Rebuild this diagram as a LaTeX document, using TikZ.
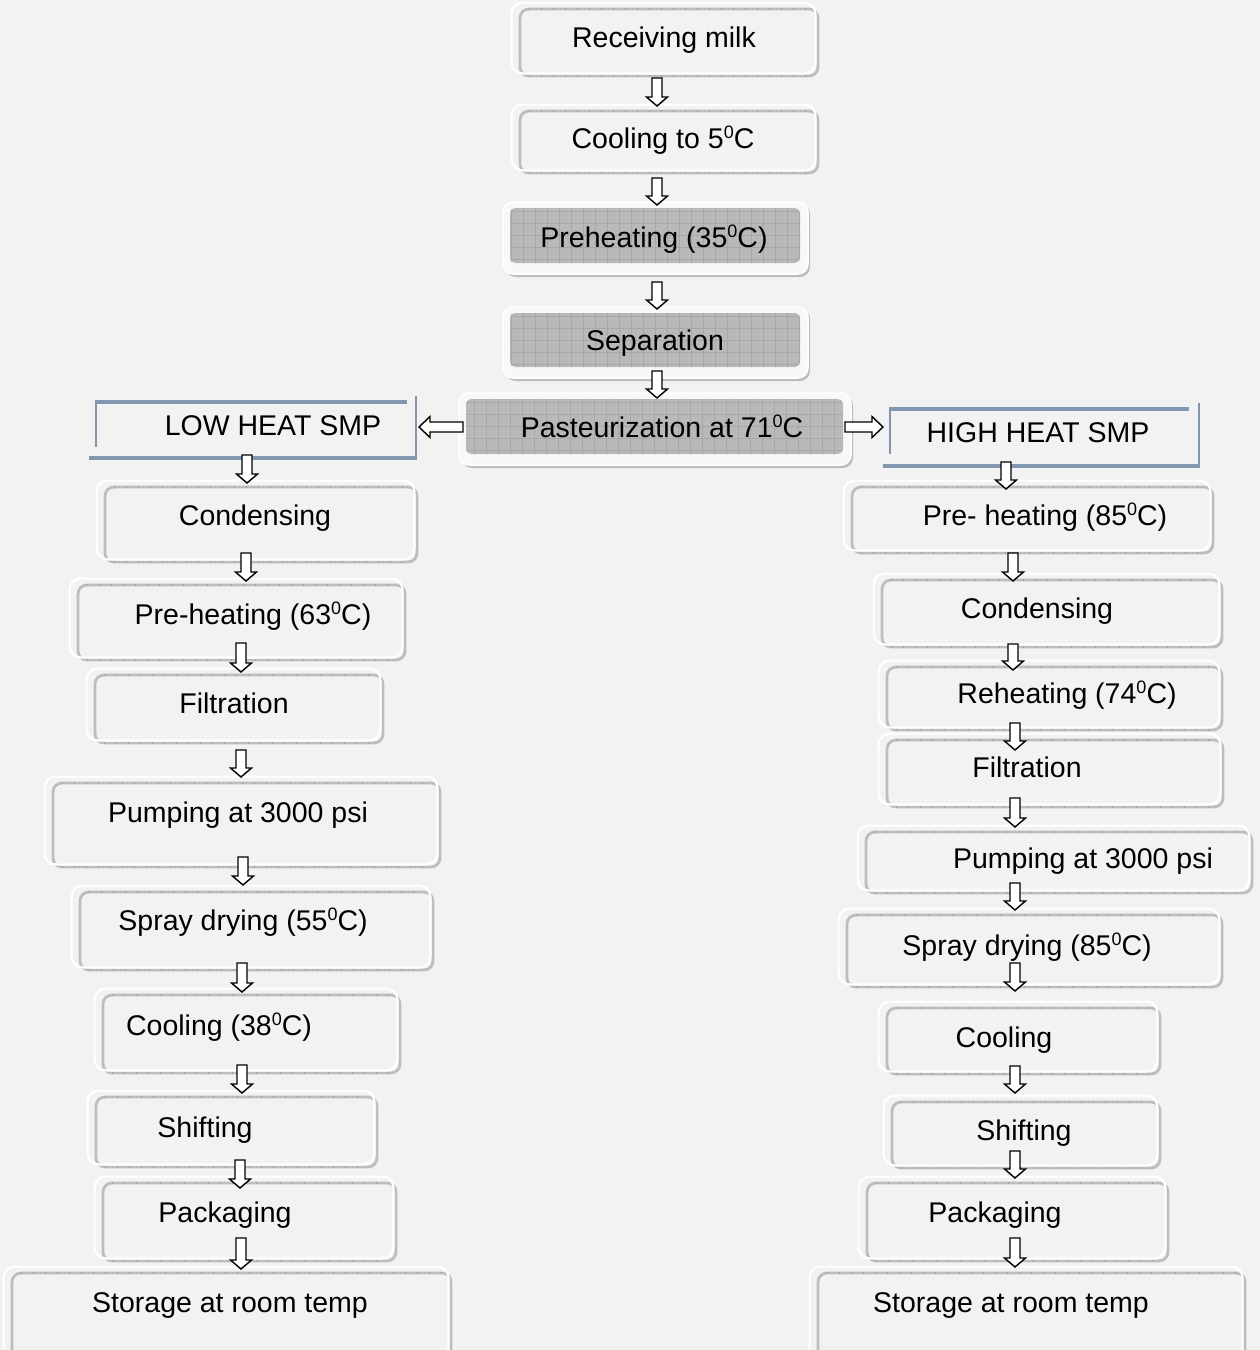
\documentclass[tikz,border=0pt]{standalone}
\usepackage{fontspec}
\setmainfont{Liberation Sans}
\definecolor{bg}{HTML}{F2F2F2}
\definecolor{frame}{HTML}{BDBDBD}
\definecolor{tick}{HTML}{A0A0A0}
\definecolor{gfill}{HTML}{B9B9B9}
\definecolor{gline}{HTML}{A8A8A8}
\definecolor{slate}{HTML}{8396B0}
\tikzset{
  wbox/.style={draw=frame, line width=2.8pt, rounded corners=9pt, fill=bg, inner sep=0pt},
  halo/.style={draw=white, line width=2.2pt, rounded corners=11pt},
  gbox/.style={fill=gfill, rounded corners=5pt, inner sep=0pt,
    path picture={\draw[gline, line width=0.45pt] ([shift={(-12pt,-12pt)}]path picture bounding box.south west) grid[step=12pt] ([shift={(12pt,12pt)}]path picture bounding box.north east);}},
  gshadow/.style={fill=frame, rounded corners=10pt},
  ghalo/.style={fill=bg!50!white, draw=white, line width=1.5pt, rounded corners=10pt},
  txt/.style={anchor=base, inner sep=0pt, font=\fontsize{28.5}{34}\selectfont},
  barr/.style={draw=black, fill=white, line width=1.4pt, line join=miter},
  sline/.style={draw=slate, line cap=butt},
  ticks/.style={draw=tick, line width=2.8pt, dash pattern=on 0.8pt off 11.2pt}
}
% white box: name, x1, y1, x2, y2
\newcommand\wbx[5]{%
  \node[wbox, minimum width={#4-#2}, minimum height={#5-#3}] (#1) at ({(#2+#4)/2},{(#3+#5)/2}) {};
  \draw[ticks] ({#2+9},#3) -- ({#4-9},#3);
  \draw[ticks] ({#2+9},#5) -- ({#4-9},#5);
  \draw[halo] ([shift={(-7,-5)}]#1.north west) rectangle ([shift={(-4,-4)}]#1.south east);
}
% gray grid box: name, x1, y1, x2, y2
\newcommand\gbx[5]{%
  \fill[gshadow] ({#2-4},{#3-4}) rectangle ({#4+10},{#5+14});
  \draw[ghalo] ({#2-7},{#3-6}) rectangle ({#4+8},{#5+11});
  \node[gbox, minimum width={#4-#2}, minimum height={#5-#3}] (#1) at ({(#2+#4)/2},{(#3+#5)/2}) {};
}
% down block arrow: x, ytop, ybottom
\newcommand\darr[3]{%
  \draw[barr] ({#1-5},#2) -- ({#1+5},#2) -- ({#1+5},{#3-9}) -- ({#1+10.5},{#3-9}) -- (#1,#3)
    -- ({#1-10.5},{#3-9}) -- ({#1-5},{#3-9}) -- cycle;
}
% label: name, x, capcenter y, text
\newcommand\lbl[4]{\node[txt] (#1) at (#2,{#3+10}) {#4};}
\newcommand\dg{\raisebox{10pt}{\fontsize{18}{18}\selectfont 0}}
\begin{document}
\begin{tikzpicture}[x=1pt,y=-1pt]
\useasboundingbox (0,0) rectangle (1260,1350);
\fill[bg] (0,0) rectangle (1260,1350);

% centre column
\wbx{recv}{520}{9}{818}{76}
\wbx{cool}{520}{111}{818}{173}
\gbx{pre}{510}{208}{800}{263}
\gbx{sep}{510}{313}{800}{367}
\gbx{past}{466}{399}{843}{454}
\lbl{trecv}{664}{37}{Receiving milk}
\lbl{tcool}{663}{138}{Cooling to 5\dg C}
\lbl{tpre}{654}{237}{Preheating (35\dg C)}
\lbl{tsep}{655}{340}{Separation}
\lbl{tpast}{662}{427}{Pasteurization at 71\dg C}

% LOW HEAT SMP
\draw[sline, line width=4pt] (95,402) -- (407,402);
\draw[sline, line width=2pt] (96,400) -- (96,447);
\draw[sline, line width=4pt] (89,458) -- (417,458);
\draw[sline, line width=2pt] (416,396) -- (416,460);
\lbl{low}{273}{425}{LOW HEAT SMP}
% HIGH HEAT SMP
\draw[sline, line width=4pt] (889,408.5) -- (1189,408.5);
\draw[sline, line width=2pt] (890,407) -- (890,454);
\draw[sline, line width=4pt] (883,465.5) -- (1200,465.5);
\draw[sline, line width=2pt] (1199,403) -- (1199,467);
\lbl{high}{1038}{432}{HIGH HEAT SMP}

% left column
\wbx{lcond}{105}{487}{417}{562}
\wbx{lpre}{78}{585}{405}{660}
\wbx{lfilt}{95}{675}{383}{743}
\wbx{lpump}{53}{783}{440}{867}
\wbx{lspray}{80}{892}{433}{970}
\wbx{lcool}{103}{995}{400}{1073}
\wbx{lshift}{96}{1097}{377}{1167}
\wbx{lpack}{103}{1183}{396}{1261}
\wbx{lstor}{12}{1273}{451}{1364}
\lbl{tlcond}{255}{515}{Condensing}
\lbl{tlpre}{253}{614}{Pre-heating (63\dg C)}
\lbl{tlfilt}{234}{703}{Filtration}
\lbl{tlpump}{238}{812}{Pumping at 3000 psi}
\lbl{tlspray}{243}{920}{Spray drying (55\dg C)}
\lbl{tlcool}{219}{1025}{Cooling (38\dg C)}
\lbl{tlshift}{205}{1127}{Shifting}
\lbl{tlpack}{225}{1212}{Packaging}
\lbl{tlstor}{230}{1302}{Storage at room temp}

% right column
\wbx{rpre}{852}{487}{1213}{553}
\wbx{rcond}{882}{580}{1222}{647}
\wbx{rreh}{887}{667}{1222}{730}
\wbx{rfilt}{887}{740}{1223}{807}
\wbx{rpump}{866}{832}{1252}{893}
\wbx{rspray}{847}{915}{1222}{987}
\wbx{rcool}{887}{1008}{1160}{1074}
\wbx{rshift}{892}{1102}{1160}{1168}
\wbx{rpack}{867}{1183}{1168}{1261}
\wbx{rstor}{818}{1273}{1245}{1364}
\lbl{trpre}{1045}{515}{Pre- heating (85\dg C)}
\lbl{trcond}{1037}{608}{Condensing}
\lbl{trreh}{1067}{693}{Reheating (74\dg C)}
\lbl{trfilt}{1027}{767}{Filtration}
\lbl{trpump}{1083}{858}{Pumping at 3000 psi}
\lbl{trspray}{1027}{945}{Spray drying (85\dg C)}
\lbl{trcool}{1004}{1037}{Cooling}
\lbl{trshift}{1024}{1130}{Shifting}
\lbl{trpack}{995}{1212}{Packaging}
\lbl{trstor}{1011}{1302}{Storage at room temp}

% arrows centre
\darr{657}{78}{106}
\darr{657}{178}{205}
\darr{657}{282}{309}
\darr{657}{371}{398}
% side arrows
\draw[barr] (463,422) -- (430,422) -- (430,416.5) -- (419,427) -- (430,437.5) -- (430,432) -- (463,432) -- cycle;
\draw[barr] (845,422) -- (872,422) -- (872,416.5) -- (883,427) -- (872,437.5) -- (872,432) -- (845,432) -- cycle;
% arrows left
\darr{247}{455}{483}
\darr{246}{553}{581}
\darr{241}{643}{672}
\darr{241}{750}{777}
\darr{243}{857}{885}
\darr{242}{963}{992}
\darr{242}{1065}{1093}
\darr{240}{1160}{1188}
\darr{241}{1238}{1269}
% arrows right
\darr{1006}{462}{489}
\darr{1013}{553}{581}
\darr{1013}{644}{670}
\darr{1015}{723}{750}
\darr{1015}{798}{827}
\darr{1015}{883}{910}
\darr{1015}{963}{991}
\darr{1015}{1066}{1093}
\darr{1015}{1151}{1178}
\darr{1015}{1238}{1267}
\end{tikzpicture}
\end{document}
